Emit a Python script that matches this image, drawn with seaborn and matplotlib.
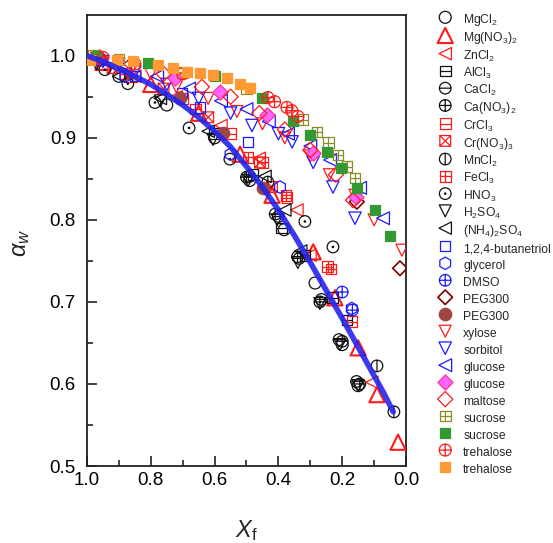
import numpy as np
import matplotlib
matplotlib.use("Agg")
import matplotlib.pyplot as plt
from matplotlib.path import Path
import seaborn as sns

# ---- data ----
line_x = [1.0, 0.95, 0.9, 0.85, 0.8, 0.75, 0.7, 0.65, 0.6, 0.55, 0.5, 0.45, 0.4,
          0.35, 0.3, 0.25, 0.2, 0.15, 0.1, 0.07, 0.04]
line_y = [1.0, 0.993, 0.984, 0.975, 0.965, 0.953, 0.94, 0.925, 0.908, 0.889, 0.865,
          0.84, 0.812, 0.781, 0.748, 0.714, 0.68, 0.645, 0.61, 0.589, 0.566]

mgcl2_x = [0.9, 0.75, 0.6, 0.49, 0.382, 0.285, 0.2, 0.15]
mgcl2_y = [0.975, 0.94, 0.9, 0.848, 0.788, 0.723, 0.648, 0.598]
mgno3_x = [0.95, 0.8, 0.65, 0.52, 0.42, 0.291, 0.223, 0.15, 0.091, 0.025]
mgno3_y = [0.992, 0.965, 0.93, 0.88, 0.83, 0.761, 0.705, 0.644, 0.587, 0.529]
zncl2_x = [0.98, 0.85, 0.72, 0.58, 0.46, 0.342, 0.301, 0.107]
zncl2_y = [0.995, 0.975, 0.95, 0.915, 0.875, 0.812, 0.757, 0.602]
alcl3_x = [0.6, 0.48, 0.39, 0.317, 0.23, 0.185]
alcl3_y = [0.905, 0.855, 0.79, 0.757, 0.705, 0.678]
cacl2_x = [0.49, 0.40, 0.335, 0.265, 0.21, 0.155]
cacl2_y = [0.853, 0.804, 0.753, 0.703, 0.654, 0.603]
cano3_x = [0.5, 0.41, 0.34, 0.27, 0.2, 0.145]
cano3_y = [0.852, 0.807, 0.755, 0.70, 0.652, 0.600]
crcl3_x = [0.88, 0.7, 0.55, 0.45, 0.373, 0.169]
crcl3_y = [0.978, 0.948, 0.905, 0.87, 0.827, 0.676]
crno3_x = [0.92, 0.76, 0.62, 0.458, 0.42]
crno3_y = [0.985, 0.96, 0.925, 0.87, 0.84]
mncl2_x = [0.433, 0.091, 0.038]
mncl2_y = [0.846, 0.622, 0.566]
fecl3_x = [0.86, 0.66, 0.495, 0.376, 0.245, 0.235]
fecl3_y = [0.975, 0.935, 0.876, 0.83, 0.743, 0.740]
hno3_x = [0.944, 0.872, 0.787, 0.68, 0.552, 0.317, 0.229]
hno3_y = [0.983, 0.966, 0.943, 0.912, 0.874, 0.798, 0.767]
h2so4_x = [0.97, 0.77, 0.605, 0.495, 0.404, 0.339, 0.27, 0.207, 0.15]
h2so4_y = [0.99, 0.945, 0.898, 0.848, 0.8, 0.748, 0.698, 0.648, 0.598]
nh4so4_x = [0.9, 0.77, 0.62, 0.442, 0.38, 0.33]
nh4so4_y = [0.975, 0.948, 0.908, 0.853, 0.812, 0.762]
butanetriol_x = [0.96, 0.85, 0.702, 0.646, 0.495]
butanetriol_y = [0.995, 0.975, 0.955, 0.937, 0.895]
glycerol_x = [0.88, 0.55, 0.395, 0.17]
glycerol_y = [0.975, 0.88, 0.84, 0.692]
dmso_x = [0.2, 0.168]
dmso_y = [0.712, 0.69]
peg_open_x = [0.154, 0.019]
peg_open_y = [0.822, 0.741]
peg_fill_x = [0.708, 0.574, 0.448]
peg_fill_y = [0.948, 0.906, 0.839]
xylose_x = [0.97, 0.9, 0.8, 0.72, 0.62, 0.53, 0.45, 0.38, 0.3, 0.24, 0.16, 0.1, 0.013]
xylose_y = [0.997, 0.99, 0.978, 0.962, 0.948, 0.932, 0.917, 0.9, 0.878, 0.855, 0.83, 0.8, 0.763]
sorbitol_x = [0.95, 0.85, 0.75, 0.65, 0.55, 0.483, 0.4, 0.357, 0.291, 0.229, 0.16]
sorbitol_y = [0.993, 0.98, 0.965, 0.948, 0.93, 0.915, 0.905, 0.895, 0.87, 0.84, 0.802]
glucose_b_x = [0.98, 0.88, 0.78, 0.68, 0.58, 0.5, 0.43, 0.37, 0.3, 0.238, 0.144, 0.072]
glucose_b_y = [0.998, 0.988, 0.975, 0.96, 0.945, 0.935, 0.92, 0.905, 0.89, 0.873, 0.839, 0.802]
glucose_p_x = [0.724, 0.583, 0.436, 0.29, 0.157]
glucose_p_y = [0.973, 0.956, 0.928, 0.882, 0.828]
maltose_x = [0.96, 0.86, 0.76, 0.64, 0.55, 0.46, 0.38, 0.3, 0.22, 0.166]
maltose_y = [0.998, 0.99, 0.978, 0.962, 0.95, 0.93, 0.91, 0.885, 0.855, 0.824]
sucrose_o_x = [0.98, 0.9, 0.7, 0.5, 0.323, 0.279, 0.244, 0.213, 0.185, 0.16]
sucrose_o_y = [1.0, 0.995, 0.98, 0.96, 0.922, 0.907, 0.894, 0.879, 0.865, 0.851]
sucrose_g_x = [0.97, 0.81, 0.6, 0.451, 0.354, 0.301, 0.248, 0.204, 0.154, 0.097, 0.05]
sucrose_g_y = [1.0, 0.991, 0.975, 0.949, 0.92, 0.904, 0.883, 0.863, 0.839, 0.812, 0.78]
trehalose_r_x = [0.95, 0.85, 0.7, 0.433, 0.412, 0.373, 0.358, 0.339]
trehalose_r_y = [0.998, 0.99, 0.978, 0.949, 0.944, 0.937, 0.933, 0.926]
trehalose_o_x = [0.99, 0.906, 0.856, 0.777, 0.73, 0.687, 0.646, 0.605, 0.56, 0.52, 0.49]
trehalose_o_y = [0.995, 0.995, 0.993, 0.989, 0.985, 0.98, 0.979, 0.977, 0.973, 0.965, 0.961]


# ---- custom markers ----
def compound(base, segs):
    parts = [base] + [Path(s, [Path.MOVETO, Path.LINETO]) for s in segs]
    return Path.make_compound_path(*parts)


circ = Path.unit_circle()
sq = Path([[-1, -1], [1, -1], [1, 1], [-1, 1], [-1, -1]], closed=True)
hline = [[-1, 0], [1, 0]]
vline = [[0, -1], [0, 1]]
circ_h = compound(circ, [hline])
circ_v = compound(circ, [vline])
circ_p = compound(circ, [hline, vline])
circ_d = Path.make_compound_path(circ, Path(circ.vertices * 0.12, circ.codes))
sq_h = compound(sq, [hline])
sq_p = compound(sq, [hline, vline])
sq_x = compound(sq, [[[-1, -1], [1, 1]], [[-1, 1], [1, -1]]])

K, R, B = "#111111", "#ff1a1a", "#1a1aff"

series = [
    ("MgCl$_2$", mgcl2_x, mgcl2_y, "o", "none", K, 74, 0.9),
    ("Mg(NO$_3$)$_2$", mgno3_x, mgno3_y, "^", "none", R, 120, 1.5),
    ("ZnCl$_2$", zncl2_x, zncl2_y, "<", "none", R, 80, 0.9),
    ("AlCl$_3$", alcl3_x, alcl3_y, sq_h, "none", K, 60, 0.9),
    ("CaCl$_2$", cacl2_x, cacl2_y, circ_h, "none", K, 70, 0.9),
    ("Ca(NO$_3$)$_2$", cano3_x, cano3_y, circ_p, "none", K, 70, 0.9),
    ("CrCl$_3$", crcl3_x, crcl3_y, sq_h, "none", R, 60, 0.9),
    ("Cr(NO$_3$)$_3$", crno3_x, crno3_y, sq_x, "none", R, 60, 0.9),
    ("MnCl$_2$", mncl2_x, mncl2_y, circ_v, "none", K, 70, 0.9),
    ("FeCl$_3$", fecl3_x, fecl3_y, sq_p, "none", R, 60, 0.9),
    ("HNO$_3$", hno3_x, hno3_y, circ_d, "none", K, 70, 0.9),
    ("H$_2$SO$_4$", h2so4_x, h2so4_y, "v", "none", K, 74, 0.9),
    ("(NH$_4$)$_2$SO$_4$", nh4so4_x, nh4so4_y, "<", "none", K, 80, 0.9),
    ("1,2,4-butanetriol", butanetriol_x, butanetriol_y, "s", "none", B, 55, 0.9),
    ("glycerol", glycerol_x, glycerol_y, "h", "none", B, 80, 0.9),
    ("DMSO", dmso_x, dmso_y, circ_p, "none", B, 70, 0.9),
    ("PEG300", peg_open_x, peg_open_y, "D", "none", "#800000", 55, 1.2),
    ("PEG300", peg_fill_x, peg_fill_y, "o", "#a04545", "#a04545", 80, 0.9),
    ("xylose", xylose_x, xylose_y, "v", "none", R, 74, 0.9),
    ("sorbitol", sorbitol_x, sorbitol_y, "v", "none", B, 80, 0.9),
    ("glucose", glucose_b_x, glucose_b_y, "<", "none", B, 85, 0.9),
    ("glucose", glucose_p_x, glucose_p_y, "D", "#ff66ff", "#ff3399", 60, 0.9),
    ("maltose", maltose_x, maltose_y, "D", "none", R, 60, 0.9),
    ("sucrose", sucrose_o_x, sucrose_o_y, sq_p, "none", "#8c8c2a", 60, 0.9),
    ("sucrose", sucrose_g_x, sucrose_g_y, "s", "#339933", "#339933", 62, 0.9),
    ("trehalose", trehalose_r_x, trehalose_r_y, circ_p, "none", R, 74, 0.9),
    ("trehalose", trehalose_o_x, trehalose_o_y, "s", "#ff9933", "#ff9933", 62, 0.9),
]

sns.set_style("ticks")
plt.rcParams["font.family"] = ["Liberation Sans", "DejaVu Sans"]
plt.rcParams["mathtext.fontset"] = "custom"
plt.rcParams["mathtext.rm"] = "Liberation Sans"
plt.rcParams["mathtext.it"] = "Liberation Sans:italic"
plt.rcParams["mathtext.default"] = "regular"

fig = plt.figure(figsize=(5.53, 5.43), dpi=100)
ax = fig.add_axes([0.1573, 0.1418, 0.5769, 0.8311])

for name, xs, ys, mk, fc, ec, sz, lw in series:
    sns.scatterplot(x=xs, y=ys, marker=mk, s=sz, facecolor=fc, edgecolor=ec,
                    linewidth=lw, label=name, ax=ax, zorder=3)

sns.lineplot(x=line_x, y=line_y, color="#2424ee", lw=4, alpha=0.9, ax=ax,
             zorder=5, sort=False, legend=False)

ax.set_xlim(1.0, 0.0)
ax.set_ylim(0.5, 1.05)
ax.set_xticks(np.arange(0, 1.01, 0.2))
ax.set_xticks(np.arange(0.1, 1.0, 0.2), minor=True)
ax.set_yticks(np.arange(0.5, 1.01, 0.1))
ax.set_yticks(np.arange(0.55, 1.05, 0.1), minor=True)
ax.set_xticklabels(["%.1f" % v for v in np.arange(0, 1.01, 0.2)])
ax.set_yticklabels(["%.1f" % v for v in np.arange(0.5, 1.01, 0.1)])
ax.tick_params(which="both", direction="in", width=1.2, colors="#222222",
               labelsize=13.5, labelcolor="black")
ax.tick_params(which="major", length=7)
ax.tick_params(which="minor", length=4)
ax.tick_params(axis="y", pad=8)
ax.tick_params(axis="x", pad=4)
for sp in ax.spines.values():
    sp.set_visible(True)
    sp.set_linewidth(1.3)
    sp.set_color("#222222")

ax.set_xlabel("$\\mathit{X}_{\\rm f}$", fontsize=17)
ax.xaxis.set_label_coords(0.5, -0.115)
ax.set_ylabel("$\\mathit{\\alpha}_{\\mathit{w}}$", fontsize=17)
ax.yaxis.set_label_coords(-0.172, 0.494)

handles, labels = ax.get_legend_handles_labels()
ax.legend(handles, labels, loc="upper left", bbox_to_anchor=(0.792, 0.979),
          bbox_transform=fig.transFigure, frameon=False, fontsize=8.7,
          handlelength=1.2, handletextpad=0.9, handleheight=1.6,
          labelspacing=0.12, borderpad=0, borderaxespad=0, scatterpoints=1)

fig.savefig("out.png", dpi=100)
